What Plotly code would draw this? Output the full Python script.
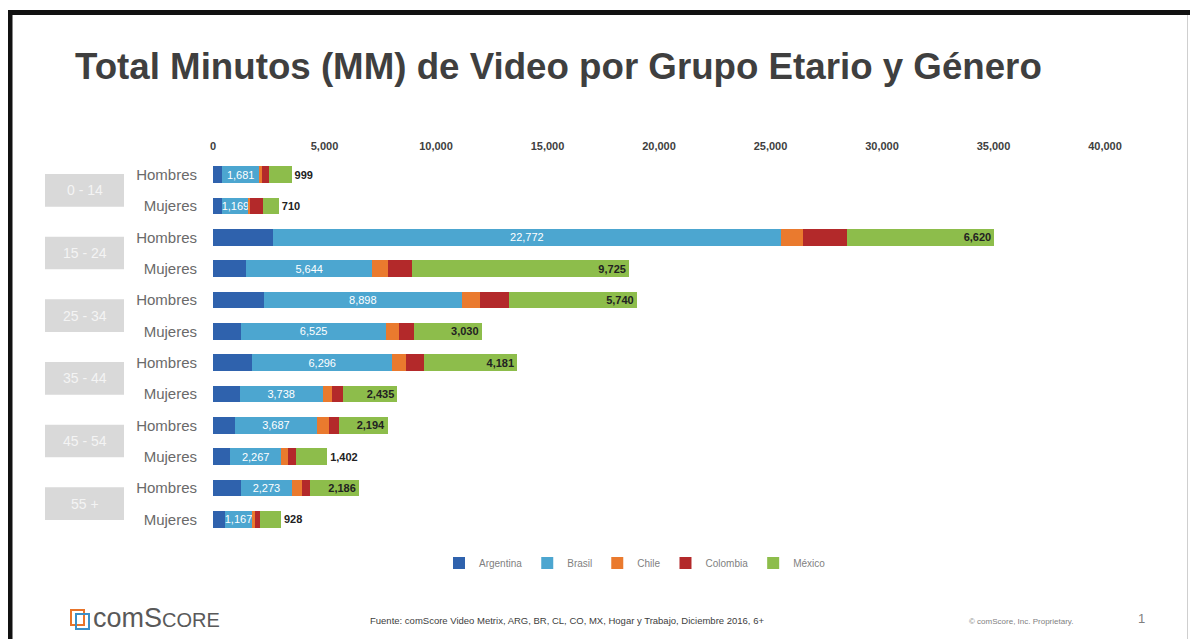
import plotly.graph_objects as go

# ---------------- data ----------------
age_groups = ["0 - 14", "15 - 24", "25 - 34", "35 - 44", "45 - 54", "55 +"]
genders = ["Hombres", "Mujeres"]
countries = ["Argentina", "Brasil", "Chile", "Colombia", "México"]

argentina = [400, 420, 2690, 1490, 2270, 1250, 1750, 1190, 980, 780, 1260, 560]
brasil = [1681, 1169, 22772, 5644, 8898, 6525, 6296, 3738, 3687, 2267, 2273, 1167]
chile = [100, 80, 980, 700, 820, 570, 600, 420, 520, 330, 460, 170]
colombia = [340, 570, 1970, 1090, 1270, 670, 810, 480, 470, 340, 360, 220]
mexico = [999, 710, 6620, 9725, 5740, 3030, 4181, 2435, 2194, 1402, 2186, 928]

x_ticks = [0, 5000, 10000, 15000, 20000, 25000, 30000, 35000, 40000]

title_text = "Total Minutos (MM) de Video por Grupo Etario y Género"
source_text = "Fuente: comScore Video Metrix, ARG, BR, CL, CO, MX, Hogar y Trabajo, Diciembre 2016, 6+"
copyright_text = "© comScore, Inc. Proprietary."
page_number = "1"

# ---------------- layout helpers ----------------
W, H = 1190, 639
ML, MR, MT, MB = 213, 85, 159, 104
PW, PH = W - ML - MR, H - MT - MB


def px(xp):
    return (xp - ML) / PW


def py(yp):
    return (H - MB - yp) / PH


FONT = "Liberation Sans, Arial, sans-serif"
colors = ["#2f62ad", "#4ca6d0", "#ea7a2e", "#b3292a", "#8dbd4b"]

rows = [f"{a} {g}" for a in age_groups for g in genders]
row_text = [g for a in age_groups for g in genders]

series = [argentina, brasil, chile, colombia, mexico]

fig = go.Figure()
for name, vals, col in zip(countries, series, colors):
    kw = {}
    if name == "Brasil":
        kw = dict(
            text=vals,
            texttemplate="%{x:,}",
            textposition="inside",
            insidetextanchor="middle",
            textfont=dict(family=FONT, size=11, color="white"),
        )
    elif name == "México":
        kw = dict(
            text=vals,
            texttemplate="%{x:,}",
            textposition=["inside" if v >= 2000 else "outside" for v in vals],
            insidetextanchor="end",
            textfont=dict(family=FONT, size=11, color="#222222", weight="bold"),
            cliponaxis=False,
        )
    fig.add_trace(
        go.Bar(
            y=rows,
            x=vals,
            name=name,
            orientation="h",
            marker=dict(color=col, line=dict(width=0)),
            hoverinfo="skip",
            **kw,
        )
    )

shapes = []
annotations = []

# age group boxes
for i, age in enumerate(age_groups):
    c = 2 * i + 0.5
    shapes.append(
        dict(
            type="rect",
            xref="paper",
            yref="y",
            x0=px(45),
            x1=px(124),
            y0=c - 0.52,
            y1=c + 0.52,
            fillcolor="#d9d9d9",
            line=dict(width=0),
            layer="below",
        )
    )
    annotations.append(
        dict(
            xref="paper",
            yref="y",
            x=px(84.5),
            y=c,
            text=age,
            showarrow=False,
            font=dict(family=FONT, size=14, color="#f4f4f4"),
            xanchor="center",
            yanchor="middle",
        )
    )

# frame lines
shapes += [
    dict(type="rect", xref="paper", yref="paper", x0=px(8), x1=px(1190), y0=py(15), y1=py(10),
         fillcolor="#111111", line=dict(width=0)),
    dict(type="rect", xref="paper", yref="paper", x0=px(8), x1=px(12.5), y0=py(639), y1=py(10),
         fillcolor="#111111", line=dict(width=0)),
    dict(type="line", xref="paper", yref="paper", x0=px(1187.5), x1=px(1187.5), y0=py(639), y1=py(15),
         line=dict(color="#cfcfcf", width=1)),
]

# logo icon
shapes += [
    dict(type="rect", xref="paper", yref="paper", x0=px(71), x1=px(84), y0=py(625), y1=py(610),
         fillcolor="rgba(0,0,0,0)", line=dict(color="#e8742a", width=2)),
    dict(type="rect", xref="paper", yref="paper", x0=px(76), x1=px(89), y0=py(629), y1=py(614),
         fillcolor="rgba(0,0,0,0)", line=dict(color="#3a8fc8", width=2)),
]

annotations += [
    dict(xref="paper", yref="paper", x=px(91), y=py(618), xanchor="left", yanchor="middle",
         text="comS<span style='font-size:20px'>CORE</span>", showarrow=False,
         font=dict(family=FONT, size=27, color="#595959")),
    dict(xref="paper", yref="paper", x=px(567), y=py(620), xanchor="center", yanchor="middle",
         text=source_text, showarrow=False, font=dict(family=FONT, size=9.5, color="#404040")),
    dict(xref="paper", yref="paper", x=px(1021), y=py(621), xanchor="center", yanchor="middle",
         text=copyright_text, showarrow=False, font=dict(family=FONT, size=8, color="#7f7f7f")),
    dict(xref="paper", yref="paper", x=px(1141), y=py(618), xanchor="center", yanchor="middle",
         text=page_number, showarrow=False, font=dict(family=FONT, size=13, color="#7f7f7f")),
]

fig.update_layout(
    width=W,
    height=H,
    margin=dict(l=ML, r=MR, t=MT, b=MB, autoexpand=False),
    paper_bgcolor="white",
    plot_bgcolor="white",
    barmode="stack",
    bargap=0.46,
    title=dict(
        text=title_text,
        x=75 / W,
        xanchor="left",
        y=1 - 66 / H,
        yanchor="middle",
        xref="container",
        yref="container",
        font=dict(family=FONT, size=36.7, color="#3f3f3f", weight="bold"),
    ),
    xaxis=dict(
        side="top",
        range=[0, 40000],
        tickvals=x_ticks,
        tickformat=",",
        showgrid=False,
        zeroline=False,
        showline=False,
        ticks="",
        ticklabelstandoff=6,
        tickfont=dict(family=FONT, size=11, color="#404040", weight="bold"),
    ),
    yaxis=dict(
        categoryorder="array",
        categoryarray=rows,
        autorange="reversed",
        tickvals=rows,
        ticktext=row_text,
        showgrid=False,
        zeroline=False,
        showline=False,
        ticks="",
        ticklabelstandoff=15,
        tickfont=dict(family=FONT, size=15, color="#6a6a6a"),
    ),
    legend=dict(
        orientation="h",
        x=px(635),
        xanchor="center",
        y=py(563),
        yanchor="middle",
        font=dict(family=FONT, size=10, color="#7f7f7f"),
        itemwidth=30,
        traceorder="normal",
        bgcolor="rgba(0,0,0,0)",
    ),
    uniformtext=dict(minsize=11, mode="show"),
    shapes=shapes,
    annotations=annotations,
    showlegend=True,
)

fig.write_html("out.html")
